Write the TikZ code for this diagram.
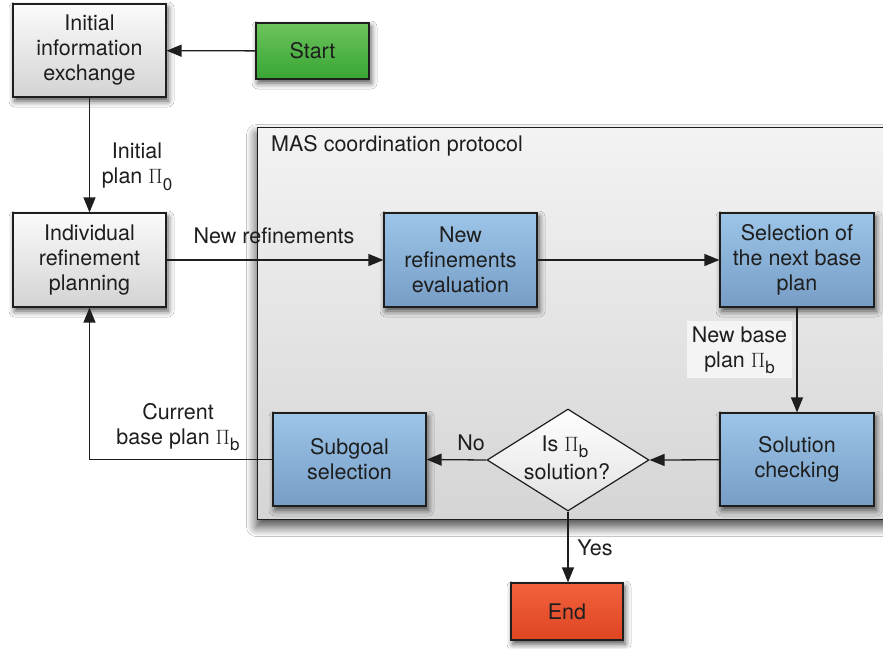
\documentclass[tikz,border=0pt]{standalone}
\usepackage{fontspec}
\setmainfont{TeX Gyre Heros}
\usetikzlibrary{shapes.geometric,arrows.meta,shadows.blur}
\definecolor{ink}{HTML}{1E1E1E}
\definecolor{bluetop}{HTML}{9CC5E8}
\definecolor{bluebot}{HTML}{779DC6}
\definecolor{graytop}{HTML}{FBFBFB}
\definecolor{graybot}{HTML}{D3D3D3}
\definecolor{greentop}{HTML}{6CC45C}
\definecolor{greenbot}{HTML}{38A534}
\definecolor{redtop}{HTML}{F2623C}
\definecolor{redbot}{HTML}{DE4522}
\definecolor{conttop}{HTML}{F3F3F3}
\definecolor{contbot}{HTML}{D5D5D5}
\newcommand\PiS[1]{$\Pi$\raisebox{-0.3em}[0.5em][0pt]{\fontsize{17}{17}\selectfont #1}}
\tikzset{
  base/.style={draw=ink, line width=1.2pt, inner sep=0pt, align=center, text=ink,
    font=\fontsize{21.5}{25}\selectfont,
    blur shadow={shadow xshift=2pt, shadow yshift=-4pt, shadow blur radius=6pt, shadow opacity=70}},
  graybox/.style={base, top color=graytop, bottom color=graybot},
  bluebox/.style={base, top color=bluetop, bottom color=bluebot},
  greenbox/.style={base, top color=greentop, bottom color=greenbot},
  redbox/.style={base, top color=redtop, bottom color=redbot},
  dia/.style={draw=ink, line width=1.2pt, diamond, inner sep=0pt, top color=white, bottom color=graybot!70},
  lbl/.style={align=center, text=ink, inner sep=0pt, font=\fontsize{21.5}{25}\selectfont},
  arr/.style={draw=ink, line width=1.3pt, -{Triangle[length=15pt,width=12pt]}},
}
\begin{document}
\begin{tikzpicture}[x=1pt,y=-1pt]
\useasboundingbox (0,0) rectangle (883,648);
\fill[white] (0,0) rectangle (883,648);
% container
\node[draw=ink, line width=1.2pt, top color=conttop, bottom color=contbot, minimum width=640pt, minimum height=392pt, anchor=north west, inner sep=0pt,
  blur shadow={shadow xshift=-1pt, shadow yshift=-7pt, shadow blur radius=10pt, shadow blur steps=12, shadow opacity=75}] (mas) at (257,127) {};
\node[lbl, anchor=west] (maslbl) at (271,146) {MAS coordination protocol};
% nodes
\node[graybox, minimum width=153pt, minimum height=93pt] (init) at (89.5,50.5) {Initial\\information\\exchange};
\node[greenbox, minimum width=113pt, minimum height=56pt] (start) at (312.5,51) {Start};
\node[graybox, minimum width=153pt, minimum height=94pt] (indiv) at (89.5,260) {Individual\\refinement\\planning};
\node[bluebox, minimum width=153pt, minimum height=94pt] (neweval) at (460.5,260) {New\\refinements\\evaluation};
\node[bluebox, minimum width=154pt, minimum height=94pt] (select) at (797,260) {Selection of\\the next base\\plan};
\node[bluebox, minimum width=154pt, minimum height=93pt] (check) at (797,459.5) {Solution\\checking};
\node[bluebox, minimum width=153pt, minimum height=93pt] (sub) at (349.5,459.5) {Subgoal\\selection};
\node[dia, minimum width=162pt, minimum height=102pt] (dec) at (568,460) {};
\node[lbl, anchor=base] (dectxta) at (565,451) {Is \PiS{b}};
\node[lbl, anchor=base] (dectxtb) at (567,479) {solution?};
\node[redbox, minimum width=112pt, minimum height=57pt] (end) at (567,611.5) {End};
% connectors
\draw[arr] (start) -- (init);
\draw[arr] (init) -- (indiv);
\draw[arr] (indiv.east) -- (neweval.west);
\draw[arr] (neweval) -- (select);
\draw[arr] (select.south -| check.north) -- (check.north);
\draw[arr] (check) -- (dec.east);
\draw[arr] (dec.west) -- (sub.east);
\draw[arr] (dec.south) -- (dec.south |- end.north);
\draw[arr] (sub.west) -| (indiv.south);
% labels
\node[lbl] (l1) at (137,166) {Initial\\plan \PiS{0}};
\node[lbl] (l2) at (274,236) {New refinements};
\node[lbl, fill=conttop!90!white, minimum width=105pt, minimum height=57pt] (l3) at (739.5,349.5) {New base\\plan \PiS{b}};
\node[lbl] (l4) at (471,443) {No};
\node[lbl] (l5) at (178,426) {Current\\base plan \PiS{b}};
\node[lbl] (l6) at (595,548) {Yes};
\end{tikzpicture}
\end{document}
